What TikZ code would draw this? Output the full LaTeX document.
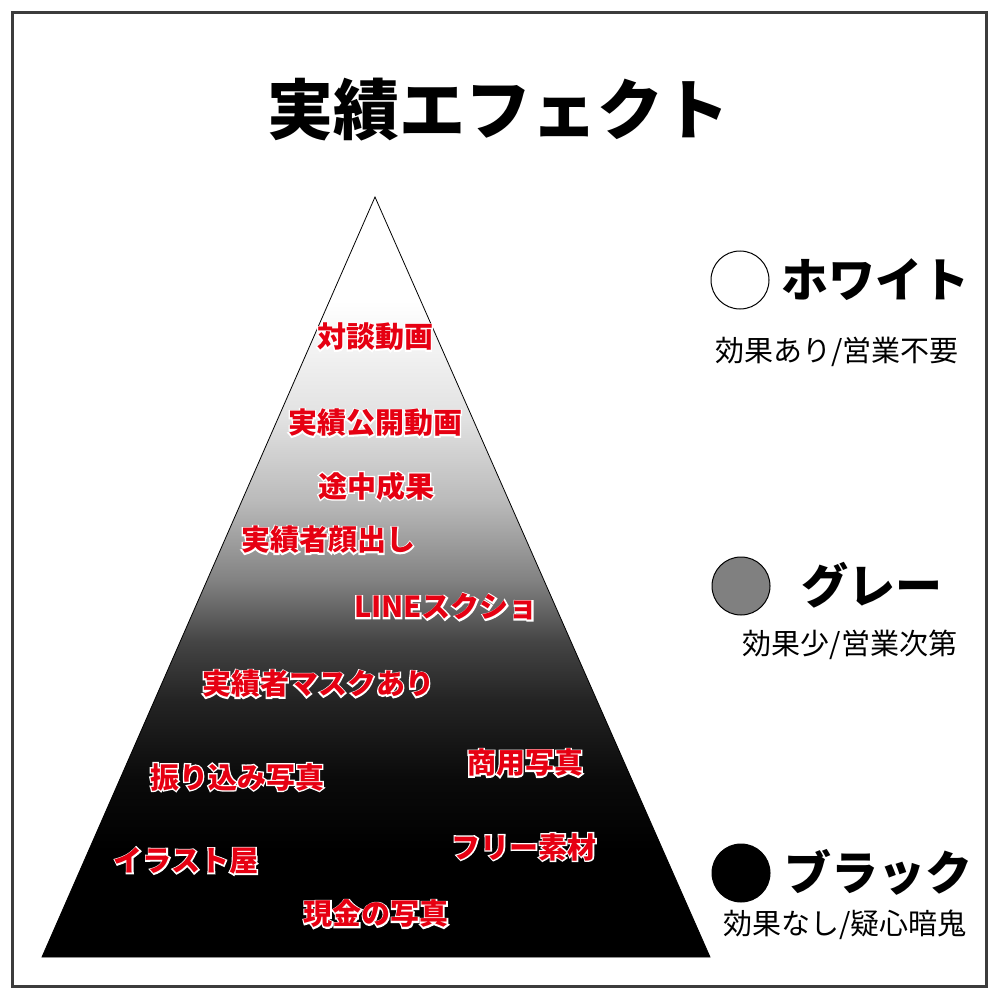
\documentclass[tikz,border=0pt]{standalone}
\usepackage{fontspec}
\setmainfont{Noto Sans CJK JP}
\newfontfamily\halofont{Noto Sans CJK JP}[BoldFeatures={FakeBold=9}]
\usepackage{tikz}
\usetikzlibrary{shapes}
\usepackage{xcolor}
\definecolor{pmred}{RGB}{230,0,18}
\definecolor{pmframe}{RGB}{60,60,60}
\definecolor{pmgray}{RGB}{128,128,128}
\pgfdeclareverticalshading{pyramidfade}{100bp}{color(0bp)=(black); color(32bp)=(black); color(36.7bp)=(black!96); color(41.9bp)=(black!86); color(45.8bp)=(black!73); color(49.8bp)=(black!49); color(55bp)=(black!27); color(60.3bp)=(black!12); color(68.2bp)=(white); color(100bp)=(white)}
\tikzstyle{tierlabel} = [font=\bfseries\fontsize{29}{29}\selectfont, text=pmred, inner sep=0pt]
\tikzstyle{dot} = [circle, draw=black, line width=1pt, minimum size=58pt, inner sep=0pt]
\tikzstyle{levelname} = [font=\bfseries\fontsize{47}{47}\selectfont, inner sep=0pt]
\tikzstyle{levelnote} = [font=\fontsize{29}{29}\selectfont, inner sep=0pt]
% red text with a white rim
\newcommand{\rimtext}[1]{\makebox[0pt][l]{\halofont\bfseries\color{white}#1}#1}

\begin{document}
\begin{tikzpicture}[x=1pt, y=-1pt]
    \useasboundingbox (0,0) rectangle (1000,1000);
    \fill[white] (0,0) rectangle (1000,1000);
    \draw[pmframe, line width=3pt] (12.5,12.5) rectangle (986.5,986.5);

    % Title
    \node[font=\bfseries\fontsize{66}{66}\selectfont, inner sep=0pt] (title) at (498,110) {実績エフェクト};

    % Pyramid
    \shadedraw[shading=pyramidfade, draw=black, line width=0.8pt] (375,197) -- (42,957) -- (710,957) -- cycle;

    % Tier labels
    \node[tierlabel] (t1) at (375,337) {\rimtext{対談動画}};
    \node[tierlabel] (t2) at (375,423) {\rimtext{実績公開動画}};
    \node[tierlabel] (t3) at (376,486) {\rimtext{途中成果}};
    \node[tierlabel] (t4) at (328,540) {\rimtext{実績者顔出し}};
    \node[tierlabel] (t5) at (446,607) {\rimtext{LINEスクショ}};
    \node[tierlabel] (t6) at (318,684) {\rimtext{実績者マスクあり}};
    \node[tierlabel] (t7) at (237,777) {\rimtext{振り込み写真}};
    \node[tierlabel] (t8) at (525,763) {\rimtext{商用写真}};
    \node[tierlabel] (t9) at (186,861) {\rimtext{イラスト屋}};
    \node[tierlabel] (t10) at (524,847) {\rimtext{フリー素材}};
    \node[tierlabel] (t11) at (376,914) {\rimtext{現金の写真}};

    % Legend
    \node[dot, fill=white] (white) at (740,280) {};
    \node[levelname] (whitename) at (875,280) {ホワイト};
    \node[levelnote] (whitenote) at (837,352) {効果あり/営業不要};

    \node[dot, fill=pmgray] (gray) at (741,586) {};
    \node[levelname] (grayname) at (872,585) {グレー};
    \node[levelnote] (graynote) at (850,645) {効果少/営業次第};

    \node[dot, fill=black] (black) at (741,873) {};
    \node[levelname] (blackname) at (878,872) {ブラック};
    \node[levelnote] (blacknote) at (845,925) {効果なし/疑心暗鬼};
\end{tikzpicture}
\end{document}
